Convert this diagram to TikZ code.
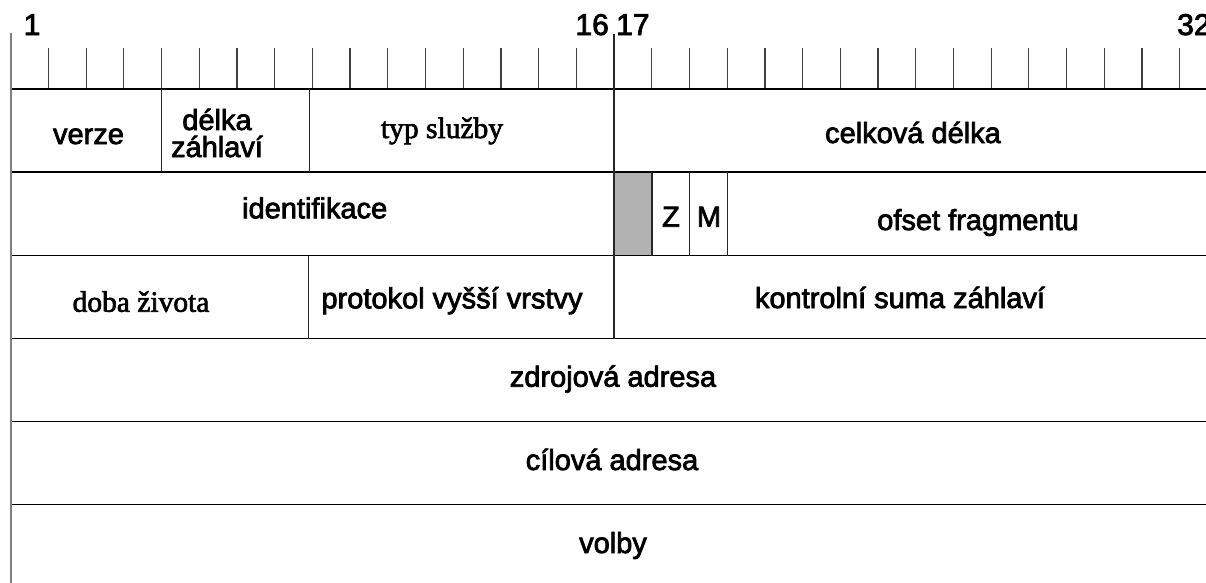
\documentclass[tikz,border=0pt]{standalone}
\usepackage{fontspec}
% regular faces with a heavier stroke
\setmainfont{Liberation Sans}[BoldFont=Liberation Sans, BoldFeatures={FakeBold=2.6}]
\newfontfamily\timesfont{Liberation Serif}[BoldFont=Liberation Serif, BoldFeatures={FakeBold=2.2}]
\begin{document}
\begin{tikzpicture}[x=1pt,y=-1pt,
  rule/.style={line width=1.6pt,black},
  divider/.style={line width=1.3pt,black!85},
  tickline/.style={line width=1.2pt,black!75},
  border/.style={line width=2pt,black!50},
  lbl/.style={anchor=base,inner sep=0pt,font=\bfseries\fontsize{29}{29}\selectfont},
  slbl/.style={anchor=base,inner sep=0pt,font=\timesfont\bfseries\fontsize{29.5}{29.5}\selectfont},
  num/.style={inner sep=0pt,font=\bfseries\fontsize{30}{30}\selectfont}]
\useasboundingbox (0,0) rectangle (1206,582);
\clip (0,0) rectangle (1206,582);

% bit ruler
\foreach \k in {1,...,15,17,18,...,31}
  \draw[tickline] ({10.7+\k*37.71},48) -- ({10.7+\k*37.71},89);
\node[num,anchor=base] (b1) at (32,35) {1};
\node[num,anchor=base east] (b16) at (609,35) {16};
\node[num,anchor=base west] (b17) at (616,35) {17};
\node[num,anchor=base west] (b32) at (1177,35) {32};

% reserved flag bit
\fill[black!30] (614,172) rectangle (652,255.5);

% row separators
\foreach \y in {89,172,255.5,338.5,421.5,504.5}
  \draw[rule] (10.7,\y) -- (1215,\y);

% field dividers
\draw[divider] (614,34) -- (614,338.5);
\draw[divider] (161.3,89) -- (161.3,172);
\draw[divider] (309.3,89) -- (309.3,172);
\draw[divider] (652,172) -- (652,255.5);
\draw[divider] (689.5,172) -- (689.5,255.5);
\draw[divider] (727.2,172) -- (727.2,255.5);
\draw[divider] (308.3,255.5) -- (308.3,338.5);
\draw[border] (10.7,33) -- (10.7,590);

% field names
\node[lbl] (verze) at (88.5,144) {verze};
\node[lbl] (delka1) at (217,130) {délka};
\node[lbl] (delka2) at (217,157) {záhlaví};
\node[slbl] (tos) at (442,138) {typ služby};
\node[lbl] (celk) at (913,143) {celková délka};
\node[lbl] (ident) at (314.7,218.3) {identifikace};
\node[lbl] (fz) at (671,226.7) {Z};
\node[lbl] (fm) at (709,226.7) {M};
\node[lbl] (ofset) at (978,230) {ofset fragmentu};
\node[slbl] (ttl) at (141,311.7) {doba života};
\node[lbl] (proto) at (452,308.3) {protokol vyšší vrstvy};
\node[lbl] (csum) at (900,308) {kontrolní suma záhlaví};
\node[lbl] (src) at (613,386.7) {zdrojová adresa};
\node[lbl] (dst) at (612,470) {cílová adresa};
\node[lbl] (opt) at (613,553) {volby};
\end{tikzpicture}
\end{document}
